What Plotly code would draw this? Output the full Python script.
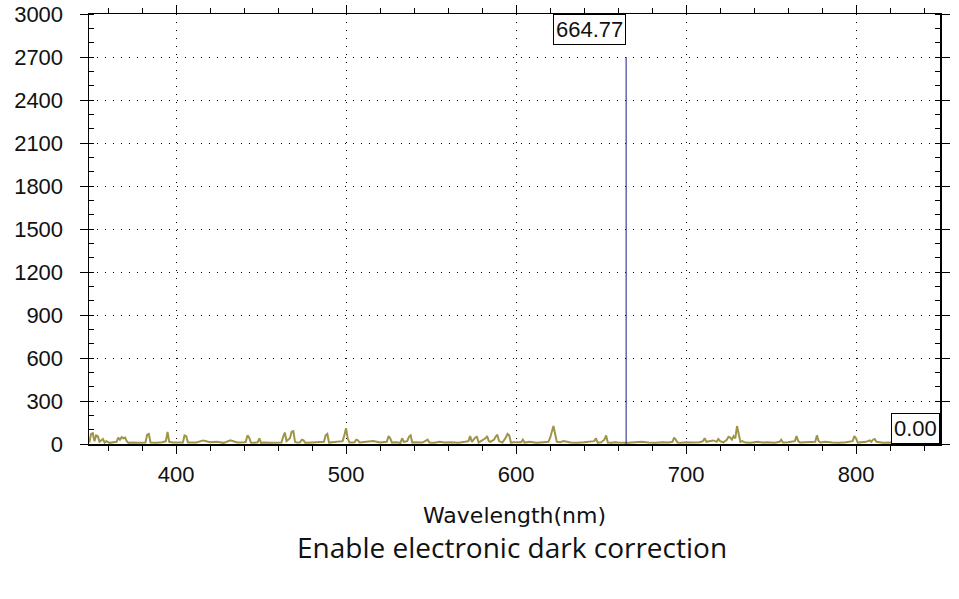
import plotly.graph_objects as go

# ---- data ----
wavelength = [
    349, 350, 351, 352, 353, 354, 355, 357, 358, 359, 361, 363, 365, 366, 367, 368, 369, 370, 371, 372, 374,
    378, 382, 383, 384, 385, 388, 392, 394, 395, 396, 398, 402, 404, 405, 406, 407, 409,
    412, 416, 420, 424, 428, 432, 436, 440, 441, 442, 443, 444, 446, 448, 449, 450, 452, 456, 460,
    462, 463, 464, 465, 467, 468, 469, 470, 471, 473, 474, 475, 476, 480, 484, 487, 488, 489, 490, 493, 496, 498, 499, 500, 501, 502,
    505, 506, 507, 508, 512, 516, 520, 522, 524, 525, 526, 527, 529, 532, 533, 534, 536, 537, 538, 539, 541, 545, 547, 548, 549, 552, 555, 558,
    562, 566, 570, 572, 573, 574, 576, 577, 578, 580, 582, 583, 584, 585, 587, 588, 589, 590, 592, 594, 595, 596, 597, 599,
    601, 603, 604, 605, 608, 612, 616, 619, 620, 621, 622, 623, 624, 626, 628, 632, 636, 640, 644, 646, 647, 648, 650, 652, 653, 654, 656, 658, 660, 662,
    664, 666, 670, 674, 678, 682, 686, 690, 692, 693, 694, 695, 697, 700,
    704, 708, 710, 711, 712, 714, 716, 718, 719, 720, 722, 724, 725, 726, 727, 728, 729, 730, 731, 732, 733, 735, 738, 742, 745,
    748, 752, 755, 756, 757, 760, 762, 764, 765, 766, 767, 770, 774, 776, 777, 778, 779, 782, 786, 790, 794, 797, 798, 799, 800, 801, 803, 806, 808, 809, 810, 811, 812, 814, 816, 820, 824, 828, 832, 836,
]
intensity = [
    10, 70, 75, 20, 60, 55, 15, 35, 10, 20, 8, 10, 15, 45, 30, 48, 40, 45, 20, 8, 10,
    8, 10, 65, 70, 10, 8, 12, 20, 85, 15, 10, 8, 10, 60, 55, 10, 12,
    10, 25, 12, 15, 8, 25, 10, 12, 15, 60, 45, 10, 8, 12, 40, 8, 10, 8, 12,
    10, 50, 80, 20, 40, 85, 90, 15, 10, 12, 30, 25, 8, 10, 12, 15, 60, 70, 10, 12, 15, 20, 60, 110, 40, 10,
    12, 30, 25, 10, 15, 20, 10, 12, 15, 55, 40, 10, 12, 8, 40, 15, 20, 50, 60, 10, 12, 10, 20, 30, 10, 8, 15, 10,
    12, 8, 15, 20, 55, 15, 45, 50, 10, 25, 40, 55, 20, 15, 30, 50, 65, 20, 10, 45, 70, 60, 10, 12,
    10, 12, 30, 10, 15, 8, 12, 15, 40, 85, 125, 70, 15, 12, 20, 10, 8, 12, 15, 20, 40, 10, 12, 30, 60, 10, 8, 12, 10, 8,
    10, 8, 12, 15, 10, 8, 12, 10, 15, 45, 30, 10, 8, 12,
    10, 12, 20, 40, 15, 20, 25, 15, 35, 20, 12, 30, 50, 45, 30, 55, 40, 125, 60, 15, 20, 10, 8, 15, 10,
    12, 8, 15, 30, 10, 12, 15, 20, 55, 20, 10, 12, 10, 15, 60, 20, 10, 15, 10, 8, 12, 15, 20, 55, 40, 10, 12, 15, 25, 15, 30, 35, 15, 12, 8, 10, 8, 12, 10, 8,
]
marker_wavelength = 664.77
marker_top = 2700
marker_label = "664.77"
value_label = "0.00"
x_ticks = [400, 500, 600, 700, 800]
y_ticks = [0, 300, 600, 900, 1200, 1500, 1800, 2100, 2400, 2700, 3000]
x_title = "Wavelength(nm)"
caption = "Enable electronic dark correction"

fig = go.Figure()
fig.add_trace(go.Scatter(
    x=wavelength, y=intensity, mode="lines",
    line=dict(color="#9e9548", width=2), hoverinfo="skip", showlegend=False,
))

fig.add_shape(type="line", xref="x", yref="y",
              x0=marker_wavelength, x1=marker_wavelength, y0=0, y1=marker_top,
              line=dict(color="#1c1c80", width=1))

tickfont = dict(family="Liberation Sans, Arial", size=22, color="#111")
grid_dash = "1px,7px"

fig.update_xaxes(
    range=[348.8, 849.4], tickvals=x_ticks, ticktext=[str(v) for v in x_ticks],
    showline=True, linecolor="black", linewidth=1.5, mirror="ticks",
    ticks="outside", ticklen=8, tickcolor="black", tickwidth=1,
    minor=dict(dtick=20, tick0=400, ticks="outside", ticklen=5, tickcolor="black", showgrid=False),
    showgrid=True, gridcolor="black", griddash=grid_dash, gridwidth=1,
    tickfont=tickfont, zeroline=False, ticklabelstandoff=2, automargin=False,
    ticklabeloverflow="allow",
)
fig.update_yaxes(
    range=[0, 3000], tickvals=y_ticks, ticktext=[str(v) for v in y_ticks],
    showline=True, linecolor="black", linewidth=1.5, mirror="ticks",
    ticks="outside", ticklen=8, tickcolor="black", tickwidth=1,
    minor=dict(dtick=100, tick0=0, ticks="inside", ticklen=5, tickcolor="black", showgrid=False),
    showgrid=True, gridcolor="black", griddash=grid_dash, gridwidth=1,
    tickfont=tickfont, zeroline=False, ticklabelstandoff=12, automargin=False,
    ticklabeloverflow="allow",
)

fig.add_annotation(x=marker_wavelength, xref="x", y=1, yref="paper",
                   xanchor="right", yanchor="top", text=marker_label, showarrow=False,
                   font=dict(family="Liberation Sans, Arial", size=22, color="#111"),
                   bordercolor="black", borderwidth=1, bgcolor="white", borderpad=2)
fig.add_annotation(x=1, xref="paper", y=0, yref="paper",
                   xanchor="right", yanchor="bottom", text=value_label, showarrow=False,
                   font=dict(family="Liberation Sans, Arial", size=22, color="#111"),
                   bordercolor="black", borderwidth=1, bgcolor="white", borderpad=2)
fig.add_annotation(x=0.5, xref="paper", y=-0.167, yref="paper",
                   xanchor="center", yanchor="middle", text=x_title, showarrow=False,
                   font=dict(family="DejaVu Sans", size=22, color="#111"))
fig.add_annotation(x=0.497, xref="paper", y=-0.24, yref="paper",
                   xanchor="center", yanchor="middle", text=caption, showarrow=False,
                   font=dict(family="Open Sans", size=28, color="#111"))

fig.update_layout(
    width=959, height=599,
    margin=dict(l=89, r=19, t=14, b=155, autoexpand=False),
    paper_bgcolor="white", plot_bgcolor="white",
    showlegend=False,
)

# remove the default 8px page margin so the figure fills the window exactly
fig.write_html("out.html",
               config={"displayModeBar": False, "staticPlot": True},
               post_script="document.body.style.margin='0';document.body.style.overflow='hidden';")
